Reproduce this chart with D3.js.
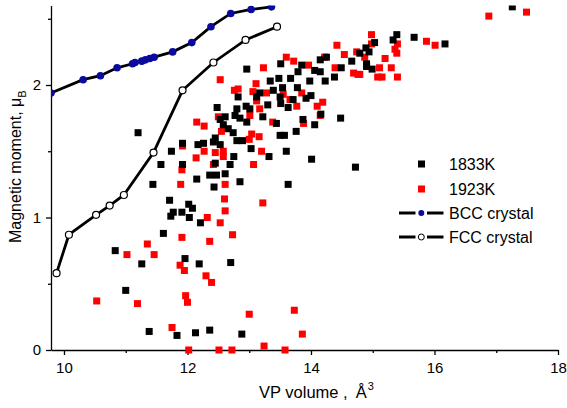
<!DOCTYPE html>
<html>
<head>
<meta charset="utf-8">
<script src="https://cdn.jsdelivr.net/npm/d3@7"></script>
<style>
body { margin: 0; background: #fff; }
text { font-family: "Liberation Sans", Arial, sans-serif; }
</style>
</head>
<body>
<div id="viz"></div>
<script>
// data: VP volume (A^3) and magnetic moment (muB)
const vol1833 = [15.03,14.89,14.94,14.79,14.66,14.90,14.90,14.99,14.25,14.15,14.49,13.85,13.51,13.79,14.06,14.15,12.96,14.38,14.23,13.98,
  13.67,13.48,13.34,13.54,13.78,13.39,13.17,13.12,12.82,13.71,13.92,14.00,13.51,13.63,13.30,12.95,13.01,12.80,12.48,12.77,
  12.85,12.61,12.53,13.22,12.96,12.58,12.66,13.44,13.87,14.16,14.48,14.06,13.76,17.26,15.39,15.33,15.67,16.17,12.74,13.50,
  13.57,12.45,12.26,12.17,11.92,12.42,12.53,12.80,12.89,13.03,12.75,13.32,13.60,14.01,14.72,12.45,12.69,11.92,12.36,12.47,
  12.61,12.15,12.85,12.43,13.63,12.02,12.08,11.91,12.03,12.21,11.96,12.19,12.70,11.20,11.74,11.57,11.44,11.71,11.77,11.73,
  11.61,10.83,11.26,11.00,11.38,11.83,12.13,12.36,12.88,13.50];
const mom1833 = [2.32,2.28,2.25,2.24,2.18,2.16,2.14,2.12,2.21,2.19,2.13,2.15,2.16,2.10,2.11,2.10,2.12,2.06,2.03,2.03,
  2.05,2.05,2.03,1.98,1.98,1.96,1.94,1.91,1.91,1.89,1.90,1.92,1.86,1.83,1.85,1.84,1.82,1.82,1.83,1.77,
  1.75,1.76,1.74,1.76,1.72,1.70,1.67,1.71,1.74,1.78,1.75,1.70,1.65,2.59,2.38,2.34,2.36,2.31,1.64,1.62,
  1.62,1.60,1.56,1.55,1.56,1.57,1.55,1.58,1.58,1.52,1.46,1.46,1.50,1.44,1.38,1.41,1.40,1.40,1.32,1.32,
  1.33,1.29,1.27,1.23,1.25,1.10,1.07,1.04,1.00,0.96,0.69,0.65,0.66,1.64,1.50,1.40,1.25,1.13,1.04,1.01,
  0.88,0.75,0.65,0.45,0.14,0.11,0.13,0.15,0.12,1.91];

const vol1923 = [14.98,14.98,14.42,14.54,14.74,13.60,13.72,13.96,14.22,14.39,14.69,14.76,15.08,13.23,12.53,13.11,12.76,12.82,13.06,13.28,
  13.55,13.66,13.85,13.12,14.19,14.10,13.17,13.77,12.50,13.01,12.15,12.27,12.55,13.38,13.88,14.15,16.88,17.49,15.40,15.36,
  15.39,15.87,16.01,15.20,15.11,15.30,15.15,15.40,14.87,14.79,13.04,13.16,13.00,12.27,12.45,12.58,12.58,12.14,12.42,13.20,
  13.07,12.61,11.91,11.89,12.60,12.61,13.22,12.32,12.53,12.73,12.36,11.91,11.92,11.35,11.46,11.02,11.88,11.95,10.53,11.19,
  11.97,12.00,11.75,12.02,12.30,12.39,13.00,13.73,13.86,13.24,13.58,12.51,12.72];
const mom1923 = [2.38,2.31,2.30,2.23,2.25,2.21,2.18,2.15,2.21,2.13,2.09,2.08,2.06,2.13,2.04,2.01,1.96,1.97,1.95,1.94,
  1.93,1.89,1.94,1.88,1.87,1.84,1.82,1.84,1.76,1.77,1.72,1.69,1.65,1.72,1.71,1.77,2.52,2.55,2.31,2.27,
  2.24,2.33,2.30,2.20,2.13,2.13,2.06,2.06,2.21,2.08,1.63,1.61,1.59,1.50,1.49,1.50,1.46,1.45,1.40,1.50,
  1.40,1.25,1.36,1.25,1.14,1.05,1.11,1.00,0.96,0.87,0.82,0.85,1.54,0.80,0.72,0.72,0.64,0.60,0.37,0.35,
  0.41,0.36,0.17,0.00,0.56,0.51,0.27,0.30,0.12,0.03,0.00,0.00,0.00];

const bccVol = [9.79,10.31,10.59,10.86,11.11,11.15,11.26,11.32,11.39,11.46,11.76,12.07,12.38,12.70,13.03,13.36];
const bccMom = [1.94,2.04,2.07,2.13,2.16,2.17,2.18,2.19,2.20,2.21,2.25,2.32,2.44,2.54,2.57,2.59];

const fccVol = [9.88,10.08,10.52,10.74,10.97,11.45,11.92,12.42,12.94,13.45];
const fccMom = [0.58,0.87,1.02,1.09,1.17,1.49,1.96,2.17,2.34,2.44];

const xTicks = [10, 12, 14, 16, 18], xMinor = [11, 13, 15, 17];
const yTicks = [0, 1, 2], yMinor = [0.5, 1.5, 2.5];

const margin = {top: 5.5, right: 9, bottom: 58, left: 51},
  width = 567 - margin.left - margin.right,
  height = 408 - margin.top - margin.bottom;

const root = d3.select("#viz").append("svg")
  .attr("width", 567).attr("height", 408);
const svg = root.append("g")
  .attr("transform", `translate(${margin.left},${margin.top})`);

const x = d3.scaleLinear().domain([9.79, 18]).range([0, width]);
const y = d3.scaleLinear().domain([0, 2.6]).range([height, 0]);

const zip = (a, b) => a.map((v, i) => ({v: v, m: b[i]}));
const s1833 = zip(vol1833, mom1833), s1923 = zip(vol1923, mom1923);
const bcc = zip(bccVol, bccMom), fcc = zip(fccVol, fccMom);

root.append("defs").append("clipPath").attr("id", "clip")
  .append("rect").attr("x", 0).attr("y", 0)
  .attr("width", width + margin.right).attr("height", height + 10);

// axes
svg.append("g").attr("transform", `translate(0,${height})`)
  .call(d3.axisBottom(x).tickValues(xTicks).tickSize(5).tickSizeOuter(0).tickPadding(7).tickFormat(d3.format("d")));
svg.append("g").attr("transform", `translate(0,${height})`)
  .call(d3.axisBottom(x).tickValues(xMinor).tickSize(3).tickFormat(""))
  .select(".domain").remove();
svg.append("g")
  .call(d3.axisLeft(y).tickValues(yTicks).tickSize(5).tickSizeOuter(0).tickPadding(5).tickFormat(d3.format("d")));
svg.append("g")
  .call(d3.axisLeft(y).tickValues(yMinor).tickSize(3).tickFormat(""))
  .select(".domain").remove();
svg.selectAll(".tick line, .domain").attr("stroke", "#000").attr("stroke-width", 1.3);
svg.selectAll(".tick text").attr("font-size", 15).attr("fill", "#000")
  .style("font-family", "'Liberation Sans', Arial, sans-serif");

const plot = svg.append("g").attr("clip-path", "url(#clip)");

// scatter: red under black
const sq = 7;
plot.selectAll(".r").data(s1923).join("rect").attr("class", "r")
  .attr("x", d => x(d.v) - sq / 2).attr("y", d => y(d.m) - sq / 2)
  .attr("width", sq).attr("height", sq).attr("fill", "#ff0000");
plot.selectAll(".k").data(s1833).join("rect").attr("class", "k")
  .attr("x", d => x(d.v) - sq / 2).attr("y", d => y(d.m) - sq / 2)
  .attr("width", sq).attr("height", sq).attr("fill", "#000");

const line = d3.line().x(d => x(d.v)).y(d => y(d.m));
plot.append("path").datum(bcc).attr("d", line)
  .attr("fill", "none").attr("stroke", "#000").attr("stroke-width", 2.8);
plot.append("path").datum(fcc).attr("d", line)
  .attr("fill", "none").attr("stroke", "#000").attr("stroke-width", 2.8);
plot.selectAll(".b").data(bcc).join("circle").attr("class", "b")
  .attr("cx", d => x(d.v)).attr("cy", d => y(d.m)).attr("r", 3.8)
  .attr("fill", "#0a0a9e");
plot.selectAll(".f").data(fcc).join("circle").attr("class", "f")
  .attr("cx", d => x(d.v)).attr("cy", d => y(d.m)).attr("r", 3.5)
  .attr("fill", "#fff").attr("stroke", "#000").attr("stroke-width", 1.2);

// axis titles
const xt = root.append("text").attr("x", 259).attr("y", 398).attr("font-size", 16.5)
  .text("VP volume ,");
xt.append("tspan").attr("dx", 8).text("Å");
xt.append("tspan").attr("dx", 1).attr("dy", -8).attr("font-size", 11).text("3");
root.append("text").attr("transform", "translate(21,243) rotate(-90)")
  .attr("font-size", 16).text("Magnetic moment, μ")
  .append("tspan").attr("dy", 5).attr("font-size", 11).text("B");

// legend
const leg = root.append("g").attr("font-size", 16);
const rows = [
  {name: "1833K", y: 164, kind: "sq", color: "#000"},
  {name: "1923K", y: 189, kind: "sq", color: "#ff0000"},
  {name: "BCC crystal", y: 213, kind: "ln", color: "#0a0a9e"},
  {name: "FCC crystal", y: 237, kind: "ln", color: "#fff"}
];
rows.forEach(r => {
  if (r.kind === "sq") {
    leg.append("rect").attr("x", 418).attr("y", r.y - 3.5).attr("width", 7).attr("height", 7).attr("fill", r.color);
  } else {
    leg.append("line").attr("x1", 399).attr("x2", 415.5).attr("y1", r.y).attr("y2", r.y)
      .attr("stroke", "#000").attr("stroke-width", 3);
    leg.append("line").attr("x1", 427).attr("x2", 443.5).attr("y1", r.y).attr("y2", r.y)
      .attr("stroke", "#000").attr("stroke-width", 3);
    leg.append("circle").attr("cx", 421.3).attr("cy", r.y).attr("r", 3)
      .attr("fill", r.color).attr("stroke", r.color === "#fff" ? "#000" : "none").attr("stroke-width", 1);
  }
  leg.append("text").attr("x", 449).attr("y", r.y + 5.5).text(r.name);
});
</script>
</body>
</html>
